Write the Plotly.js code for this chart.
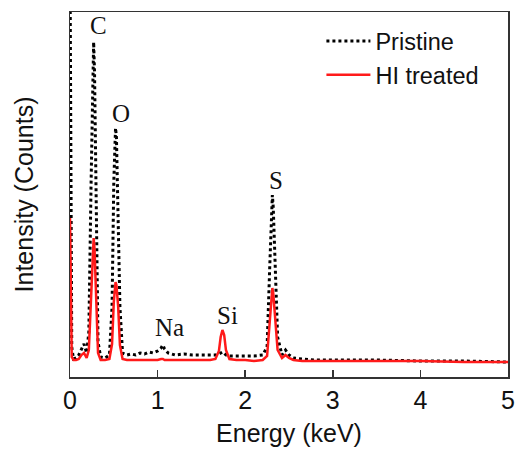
<!DOCTYPE html>
<html>
<head>
<meta charset="utf-8">
<script src="https://cdn.plot.ly/plotly-3.0.1.min.js"></script>
<style>html,body{margin:0;padding:0;background:#fff;}#chart{width:518px;height:452px;}</style>
</head>
<body>
<div id="chart"></div>
<script>
// Energy axis (keV)
var energy = [0.000,0.010,0.020,0.040,0.070,0.100,0.130,0.160,0.190,0.215,0.240,0.260,0.270,0.280,0.300,0.320,0.350,0.400,0.450,0.480,0.500,0.520,0.530,0.550,0.570,0.600,0.650,0.700,0.750,0.800,0.850,0.900,0.950,1.000,1.040,1.060,1.080,1.120,1.200,1.300,1.400,1.500,1.600,1.660,1.700,1.720,1.740,1.760,1.780,1.820,1.900,2.000,2.100,2.200,2.250,2.280,2.300,2.310,2.320,2.340,2.370,2.420,2.460,2.500,2.550,2.650,2.800,3.000,3.500,4.000,4.500,5.000];
// Pristine (counts, arbitrary)
var pristine = [420,200,30,18,19,22,28,33,24,45,190,305,335,305,165,35,20,19,22,70,195,249,240,170,70,24,22,23,22,24,23,25,24,26,29,32,28,24,22,23,22,22,22,22,23,24,25,24,22,21,21,21,21,22,30,110,165,182,170,125,40,22,27,22,19,18,17,17,17,16,16,15];
// HI treated (counts, arbitrary)
var hiTreated = [159,60,20,17,17,18,22,24,19,27,85,128,139,128,75,24,17,17,18,33,75,95,92,70,32,18,17,17,17,17,17,17,17,17,18,18,17,17,17,17,17,17,17,18,26,40,47,42,27,18,17,17,16,17,21,55,82,89,84,60,27,19,22,19,17,16,16,16,16,16,15,15];
var seriesNames = ["Pristine","HI treated"];
var elementLabels = ["C","O","Na","Si","S"];
var labelX = [0.33,0.58,1.14,1.80,2.35];
var labelY = [352,264,50,62,197];
var xTicks = [0,1,2,3,4,5];

var traces = [
  {x: energy, y: pristine, name: seriesNames[0], type: 'scatter', mode: 'lines',
   line: {color: '#000000', width: 3, dash: 'dot'}},
  {x: energy, y: hiTreated, name: seriesNames[1], type: 'scatter', mode: 'lines',
   line: {color: '#ff1a1a', width: 2.5}}
];

var annotations = elementLabels.map(function(t, i){
  return {x: labelX[i], y: labelY[i], xref: 'x', yref: 'y', text: t, showarrow: false,
    font: {family: 'Liberation Serif, Times New Roman, serif', size: 25, color: '#111'}};
});

var layout = {
  width: 518, height: 452,
  margin: {l: 70, r: 10, t: 12, b: 75},
  paper_bgcolor: '#fff', plot_bgcolor: '#fff',
  font: {family: 'Liberation Sans, Arial, sans-serif', color: '#111', size: 25},
  showlegend: true,
  legend: {x: 0.574, y: 0.98, xanchor: 'left', yanchor: 'top', bgcolor: 'rgba(0,0,0,0)',
    font: {size: 23.5}, itemwidth: 44, tracegroupgap: 0},
  xaxis: {range: [0, 5], tickvals: xTicks, ticktext: xTicks.map(String),
    ticks: 'inside', ticklen: 7, tickwidth: 1.5, tickcolor: '#333',
    showline: true, mirror: true, linecolor: '#333', linewidth: 1.5,
    showgrid: false, zeroline: false,
    tickfont: {size: 25},
    title: {text: 'Energy (keV)', font: {size: 25}, standoff: 12}},
  yaxis: {range: [0, 365], showticklabels: false, ticks: '',
    showline: true, mirror: true, linecolor: '#333', linewidth: 1.5,
    showgrid: false, zeroline: false,
    title: {text: 'Intensity (Counts)', font: {size: 25}, standoff: 28}},
  annotations: annotations
};

Plotly.newPlot('chart', traces, layout, {displayModeBar: false, staticPlot: true});
</script>
</body>
</html>
